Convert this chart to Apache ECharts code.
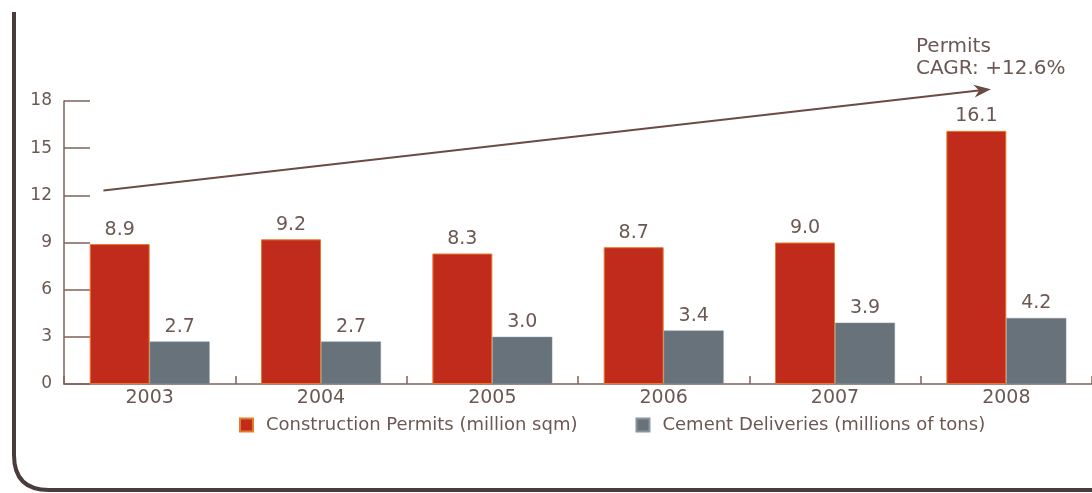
<!DOCTYPE html>
<html>
<head>
<meta charset="utf-8">
<script src="https://cdn.jsdelivr.net/npm/echarts@6/dist/echarts.min.js"></script>
<style>
  html, body { margin: 0; padding: 0; background: #fff; }
  #chart { width: 1092px; height: 493px; }
</style>
</head>
<body>
<div id="chart"></div>
<script>
// Years on the category axis
const years = ['2003', '2004', '2005', '2006', '2007', '2008'];
// Construction permits, million sqm
const permits = [8.9, 9.2, 8.3, 8.7, 9.0, 16.1];
// Cement deliveries, millions of tons
const cement = [2.7, 2.7, 3.0, 3.4, 3.9, 4.2];
// Value-axis ticks
const yMin = 0, yMax = 18, yStep = 3;
// Growth arrow: [category position, value] at tail and head
const arrowTail = [0.23, 12.3];
const arrowHead = [5.41, 18.75];
const arrowText = 'Permits\nCAGR: +12.6%';

const brown = '#6b5852';
const axisBrown = '#7d6259';
const font = '"DejaVu Sans", Verdana, sans-serif';

const chart = echarts.init(document.getElementById('chart'), null, { renderer: 'canvas' });

const labelStyle = {
  show: true, position: 'top', distance: 5,
  color: brown, fontSize: 19, fontFamily: font,
  formatter: p => p.value.toFixed(1)
};

chart.setOption({
  animation: false,
  backgroundColor: '#ffffff',
  textStyle: { fontFamily: font },
  grid: { left: 64, top: 101, width: 1032, height: 283, containLabel: false },
  legend: {
    left: 234, top: 411,
    itemWidth: 13, itemHeight: 13, itemGap: 58,
    icon: 'rect',
    textStyle: { color: brown, fontSize: 18, fontFamily: font, padding: [0, 0, 0, 8] },
    data: ['Construction Permits (million sqm)', 'Cement Deliveries (millions of tons)']
  },
  xAxis: [{
    type: 'category',
    data: years,
    axisLine: { lineStyle: { color: axisBrown, width: 1.5 } },
    axisTick: { show: true, inside: true, length: 8, lineStyle: { color: axisBrown, width: 1.5 } },
    axisLabel: { color: brown, fontSize: 19, fontFamily: font, margin: 5 },
    splitLine: { show: false }
  }, {
    type: 'value', min: 0, max: years.length, show: false
  }],
  yAxis: {
    type: 'value',
    min: yMin, max: yMax, interval: yStep,
    axisLine: { show: true, lineStyle: { color: axisBrown, width: 1.5 } },
    axisTick: { show: true, inside: true, length: 26, lineStyle: { color: axisBrown, width: 1.5 } },
    axisLabel: { color: brown, fontSize: 17, fontFamily: font, margin: 12 },
    splitLine: { show: false }
  },
  series: [{
    name: 'Construction Permits (million sqm)',
    type: 'bar',
    data: permits,
    barGap: '0%',
    barCategoryGap: '30%',
    itemStyle: { color: '#c02b1b', borderColor: '#e57a2a', borderWidth: 1 },
    label: labelStyle
  }, {
    name: 'Cement Deliveries (millions of tons)',
    type: 'bar',
    data: cement,
    itemStyle: { color: '#67727a', borderColor: '#8a969c', borderWidth: 0.5 },
    label: labelStyle
  }]
});

// Growth arrow placed through the axes' scales
const toPx = (pt) => [
  chart.convertToPixel({ xAxisIndex: 1 }, pt[0]),
  chart.convertToPixel({ yAxisIndex: 0 }, pt[1])
];
const a = toPx(arrowTail), b = toPx(arrowHead);
const ang = Math.atan2(b[1] - a[1], b[0] - a[0]);
const hl = 17, hw = 6.5;
const ux = Math.cos(ang), uy = Math.sin(ang);
const base = [b[0] - ux * hl, b[1] - uy * hl];
const head = [
  b,
  [base[0] - uy * hw, base[1] + ux * hw],
  [b[0] - ux * hl * 0.7, b[1] - uy * hl * 0.7],
  [base[0] + uy * hw, base[1] - ux * hw]
];

const frameColor = '#4a3c3c';
chart.setOption({
  graphic: [
    {
      type: 'line', silent: true,
      shape: { x1: a[0], y1: a[1], x2: b[0] - ux * 8, y2: b[1] - uy * 8 },
      style: { stroke: '#6a4c44', lineWidth: 2 }
    },
    {
      type: 'polygon', silent: true,
      shape: { points: head },
      style: { fill: '#6a4c44' }
    },
    {
      type: 'text', silent: true,
      x: 916, y: 36,
      style: { text: arrowText, fill: brown, font: '20px ' + font, lineHeight: 22 }
    },
    // Panel frame: left edge with a rounded bottom corner
    {
      type: 'polyline', silent: true,
      shape: { points: [[14, 12], [14, 456]] },
      style: { stroke: frameColor, lineWidth: 4, fill: null }
    },
    {
      type: 'bezierCurve', silent: true,
      shape: { x1: 14, y1: 455, cpx1: 14, cpy1: 490, x2: 49, y2: 490 },
      style: { stroke: frameColor, lineWidth: 4, fill: null }
    },
    {
      type: 'polyline', silent: true,
      shape: { points: [[48, 490], [1092, 490]] },
      style: { stroke: frameColor, lineWidth: 4, fill: null }
    }
  ]
});
</script>
</body>
</html>
